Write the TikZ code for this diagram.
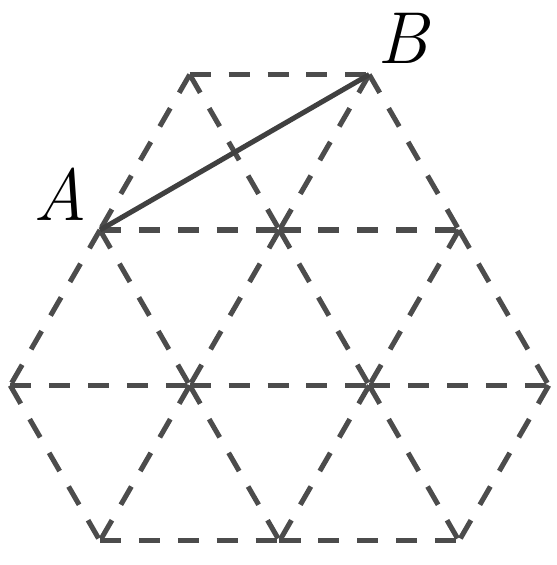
\documentclass[tikz,border=0pt]{standalone}
\begin{document}
\begin{tikzpicture}[x=3cm,y=2.598cm,
  grid/.style={draw=black!70,line width=2.4pt,dash pattern=on 10pt off 8.5pt},
  seg/.style={draw=black!75,line width=2.4pt},
  lab/.style={font=\fontsize{35}{40}\selectfont\itshape, inner sep=0pt}]
\useasboundingbox (-1.671cm,-5.599cm) rectangle (7.638cm,3.844cm);
\coordinate (t1) at (0.5,1);
\coordinate (t2) at (1.5,1);
\coordinate (a0) at (0,0);
\coordinate (a1) at (1,0);
\coordinate (a2) at (2,0);
\coordinate (m0) at (-0.5,-1);
\coordinate (m1) at (0.5,-1);
\coordinate (m2) at (1.5,-1);
\coordinate (m3) at (2.5,-1);
\coordinate (b0) at (0,-2);
\coordinate (b1) at (1,-2);
\coordinate (b2) at (2,-2);
\foreach \p/\q in {t1/t2, a0/a1, a1/a2, m0/m1, m1/m2, m2/m3, b0/b1, b1/b2,
  t1/a1, a1/m2, m2/b2, a0/m1, m1/b1, m0/b0, t2/a2, a2/m3,
  t2/a1, a1/m1, m1/b0, t1/a0, a0/m0, a2/m2, m2/b1, m3/b2}
  \path[grid] (\p) -- (\q);
\path[seg] (a0) -- (t2);
\node[lab] (labA) at (-0.66cm,0.6cm) {A};
\node[lab] (labB) at (5.06cm,3.21cm) {B};
\end{tikzpicture}
\end{document}
